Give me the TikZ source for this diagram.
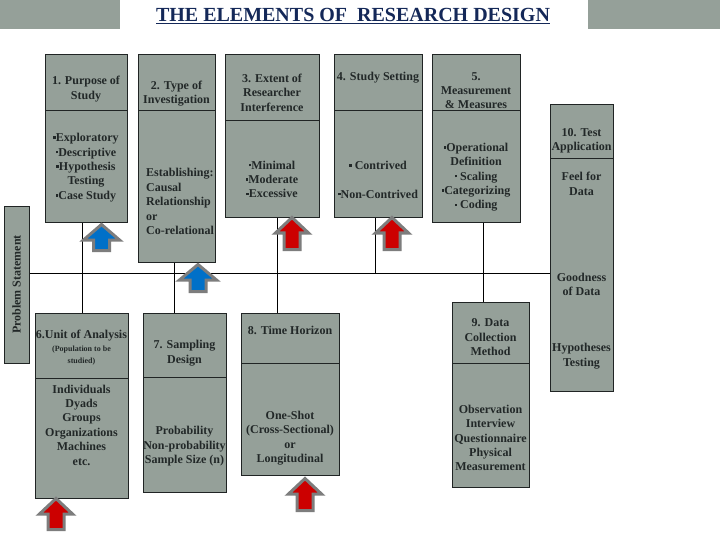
\documentclass[tikz,border=0pt]{standalone}
\usepackage{fontspec}
\setmainfont{Liberation Serif}
\definecolor{boxfill}{RGB}{149,160,153}
\definecolor{boxline}{RGB}{32,36,36}
\definecolor{txtcol}{RGB}{34,40,40}
\definecolor{titlecol}{RGB}{20,40,88}
\definecolor{arrblue}{RGB}{0,112,200}
\definecolor{arrred}{RGB}{204,0,0}
\definecolor{arrgrey}{RGB}{125,125,125}
\newcommand\bul{\rule[2.6pt]{2.6pt}{2.6pt}}
\newcommand\blkarrow[5]{%
  \draw[line width=3pt, draw=arrgrey, fill=#5]
    (#1,#2+1.5) -- (#1+#4-1.5,#2+17) -- (#1+8,#2+17) -- (#1+8,#3-1.5)
    -- (#1-8,#3-1.5) -- (#1-8,#2+17) -- (#1-#4+1.5,#2+17) -- cycle;}
\begin{document}
\begin{tikzpicture}[x=1pt,y=-1pt,
  box/.style={draw=boxline, line width=0.9pt, fill=boxfill, anchor=north west, inner sep=0pt},
  divline/.style={draw=boxline, line width=0.9pt},
  conn/.style={draw=black, line width=0.9pt},
  txt/.style={text=txtcol, font=\fontsize{12}{14.4}\selectfont\bfseries, align=center, inner sep=0pt},
  smalltxt/.style={text=txtcol, font=\fontsize{8}{12}\selectfont\bfseries, align=center, inner sep=0pt}]
\fill[white] (0,0) rectangle (720,540);
\useasboundingbox (0,0) rectangle (720,540);
% header bars
\fill[boxfill] (0,0) rectangle (120,29);
\fill[boxfill] (588,0) rectangle (720,29);
\node[text=titlecol, font=\fontsize{20}{24}\selectfont\bfseries, inner sep=0pt] (title) at (353,16) {\underline{THE ELEMENTS OF\ \ RESEARCH DESIGN}};
% boxes
\node[box, minimum width=82pt, minimum height=168pt] (b1) at (45,54) {};
\node[box, minimum width=77pt, minimum height=208pt] (b2) at (138,54) {};
\node[box, minimum width=94pt, minimum height=163pt] (b3) at (225,54) {};
\node[box, minimum width=88pt, minimum height=163pt] (b4) at (334,54) {};
\node[box, minimum width=88pt, minimum height=168pt] (b5) at (432,54) {};
\node[box, minimum width=63pt, minimum height=287pt] (b10) at (550,104) {};
\node[box, minimum width=25pt, minimum height=157pt] (ps) at (4,206) {};
\node[box, minimum width=93pt, minimum height=185pt] (b6) at (35,313) {};
\node[box, minimum width=83pt, minimum height=179pt] (b7) at (143,313) {};
\node[box, minimum width=98pt, minimum height=162pt] (b8) at (241,313) {};
\node[box, minimum width=77pt, minimum height=185pt] (b9) at (452,302) {};
% dividers
\draw[divline] (b1.west |- 0,110) -- (b1.east |- 0,110);
\draw[divline] (b2.west |- 0,110) -- (b2.east |- 0,110);
\draw[divline] (b3.west |- 0,120) -- (b3.east |- 0,120);
\draw[divline] (b4.west |- 0,110) -- (b4.east |- 0,110);
\draw[divline] (b5.west |- 0,110) -- (b5.east |- 0,110);
\draw[divline] (b10.west |- 0,158) -- (b10.east |- 0,158);
\draw[divline] (b6.west |- 0,378) -- (b6.east |- 0,378);
\draw[divline] (b7.west |- 0,377) -- (b7.east |- 0,377);
\draw[divline] (b8.west |- 0,363) -- (b8.east |- 0,363);
\draw[divline] (b9.west |- 0,363) -- (b9.east |- 0,363);
% texts
\node[txt] (t1h) at (86,89) {1. Purpose of\\Study};
\node[txt] (t1b) at (86,167.6) {\bul Exploratory\\\bul Descriptive\\\bul Hypothesis\\Testing\\\bul Case Study};
\node[txt] (t2h) at (176.5,93.5) {2. Type of\\Investigation};
\node[txt, align=left, anchor=west] (t2b) at (146,201.6) {Establishing:\\Causal\\Relationship\\or\\Co-relational};
\node[txt] (t3h) at (272,92.7) {3. Extent of\\Researcher\\Interference};
\node[txt] (t3b) at (272,179.3) {\bul Minimal\\\bul Moderate\\\bul Excessive};
\node[txt] (t4h) at (378,78) {4. Study Setting};
\node[txt] (t4b) at (378,179.5) {\bul\ Contrived\\[14.4pt]\bul Non-Contrived};
\node[txt] (t5h) at (476,90.7) {5.\\Measurement\\\&\ Measures};
\node[txt] (t5b) at (476,177.2) {\bul Operational\\Definition\\\bul\ Scaling\\\bul Categorizing\\\bul\ Coding};
\node[txt] (t10h) at (581.5,140.5) {10. Test\\Application};
\node[txt] (t10a) at (581.5,184) {Feel for\\Data};
\node[txt] (t10b) at (581.5,284.5) {Goodness\\of Data};
\node[txt] (t10c) at (581.5,356) {Hypotheses\\Testing};
\node[txt, rotate=90] (tps) at (16.5,284.5) {Problem Statement};
\node[txt] (t6h) at (81.5,336) {6.Unit of Analysis};
\node[smalltxt] (t6s) at (81.5,356) {(Population to be\\studied)};
\node[txt] (t6b) at (81.5,425) {Individuals\\Dyads\\Groups\\Organizations\\Machines\\etc.};
\node[txt] (t7h) at (184.5,353) {7. Sampling\\Design};
\node[txt] (t7b) at (184.5,446.3) {Probability\\Non-probability\\Sample Size (n)};
\node[txt] (t8h) at (290,330) {8. Time Horizon};
\node[txt] (t8b) at (290,438) {One-Shot\\(Cross-Sectional)\\or\\Longitudinal};
\node[txt] (t9h) at (490.5,337.3) {9. Data\\Collection\\Method};
\node[txt] (t9b) at (490.5,438) {Observation\\Interview\\Questionnaire\\Physical\\Measurement};
% connectors
\coordinate (hl) at (0,273);
\draw[conn] (ps.east |- hl) -- (b10.west |- hl);
\draw[conn] (b6.north |- b1.south) -- (b6.north);
\draw[conn] ([xshift=-2.5pt]b2.south) -- ([xshift=-2.5pt]b2.south |- b7.north);
\draw[conn] ([xshift=5pt]b3.south) -- ([xshift=5pt]b3.south |- b8.north);
\draw[conn] ([xshift=-3pt]b4.south) -- ([xshift=-3pt]b4.south |- hl);
\draw[conn] ([xshift=7pt]b5.south) -- ([xshift=7pt]b5.south |- b9.north);
% block arrows
\blkarrow{101.5}{223}{252}{19.5}{arrblue}
\blkarrow{198}{263}{293}{20}{arrblue}
\blkarrow{292}{216}{251}{18}{arrred}
\blkarrow{392}{216}{251}{18}{arrred}
\blkarrow{56}{497}{531}{18}{arrred}
\blkarrow{305}{477}{512}{18}{arrred}
\end{tikzpicture}
\end{document}
